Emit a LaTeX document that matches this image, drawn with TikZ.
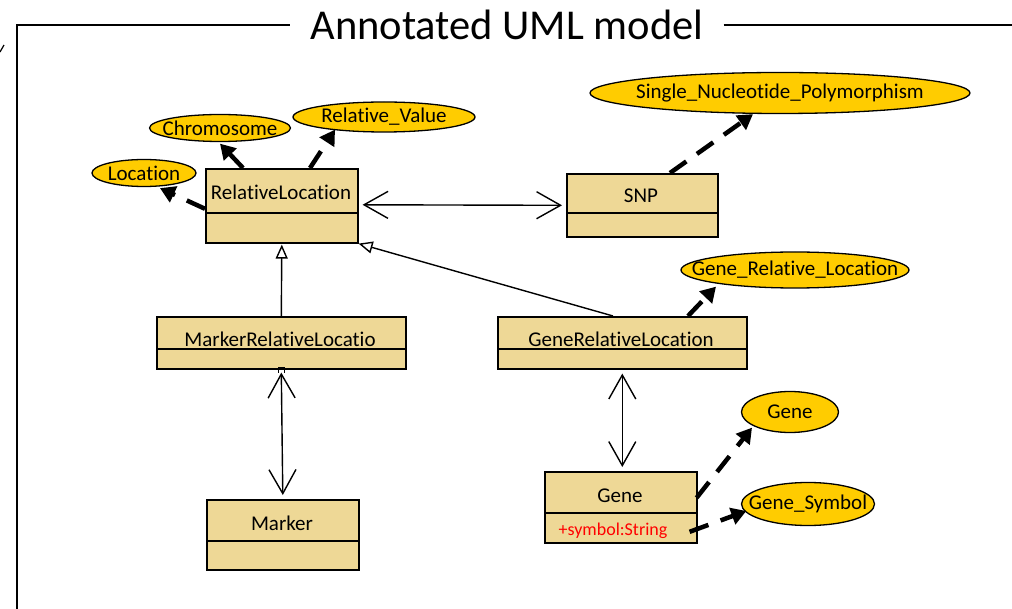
\documentclass[tikz,border=0pt]{standalone}
\usepackage{fontspec}
\setmainfont{Carlito}[Ligatures=NoCommon]
\usetikzlibrary{arrows.meta,shapes.geometric,calc}

\definecolor{boxfill}{RGB}{238,216,150}
\definecolor{ovalfill}{RGB}{255,204,0}
\definecolor{attrred}{RGB}{255,0,0}

\tikzset{
  classbox/.style={draw=black, line width=1.6pt, fill=boxfill, rectangle,
    inner sep=0pt, anchor=north west},
  cname/.style={anchor=base, inner sep=0pt, font=\fontsize{21}{24}\selectfont},
  oval/.style={draw=black, line width=1.3pt, fill=ovalfill, ellipse, inner sep=0pt,
    label={[font=\fontsize{21}{24}\selectfont, inner sep=0pt]center:#1}},
  annot/.style={draw=black, line width=4.5pt, dash pattern=on 20pt off 13pt,
    -{Triangle[length=15pt,width=17pt]}},
  assoc/.style={draw=black, line width=1.4pt,
    {Straight Barb[length=24pt,width=27pt]}-{Straight Barb[length=24pt,width=27pt]}},
  inherit/.style={draw=black, line width=1.4pt,
    -{Triangle[open,length=14pt,width=12pt,fill=white]}},
  frame/.style={draw=black, line width=2pt}
}

\begin{document}
\begin{tikzpicture}[x=1pt,y=-1pt]
\useasboundingbox (0,0) rectangle (1012,609);

% outer frame with its title
\node[anchor=base, inner sep=0pt, font=\fontsize{42.5}{48}\selectfont] (title) at (507,40) {Annotated UML model};
\coordinate (fl) at (17,609);
\coordinate (ftl) at (17,25);
\coordinate (ftr) at (1012,25);
\draw[frame] (fl) -- (ftl) -- ([xshift=-20pt]title.west |- ftl);
\draw[frame] ([xshift=20pt]title.east |- ftr) -- (ftr);
\coordinate (tk1) at (0,52);
\coordinate (tk2) at (4,45);
\draw[line width=1.2pt] (tk1) -- (tk2);

% class boxes
\node[classbox, minimum width=152pt, minimum height=74pt] (rl) at (205,168) {};
\draw[line width=1.6pt] (rl.west |- 0,213) -- (rl.east |- 0,213);
\node[cname] (rlt) at (281,200) {RelativeLocation};

\node[classbox, minimum width=151pt, minimum height=63pt] (snp) at (566,173) {};
\draw[line width=1.6pt] (snp.west |- 0,213) -- (snp.east |- 0,213);
\node[cname] (snpt) at (641,203) {SNP};

\node[classbox, minimum width=249pt, minimum height=52pt] (mrl) at (156,316) {};
\draw[line width=1.6pt] (mrl.west |- 0,349) -- (mrl.east |- 0,349);
\node[cname] (mrlt) at (280,347) {MarkerRelativeLocatio};

\node[classbox, minimum width=249pt, minimum height=52pt] (grl) at (497,316) {};
\draw[line width=1.6pt] (grl.west |- 0,349) -- (grl.east |- 0,349);
\node[cname] (grlt) at (621,347) {GeneRelativeLocation};

\node[classbox, minimum width=152pt, minimum height=71pt] (gene) at (544,471) {};
\draw[line width=1.6pt] (gene.west |- 0,513) -- (gene.east |- 0,513);
\node[cname] (genet) at (620,502) {Gene};
\node[cname, text=attrred, font=\fontsize{18}{21}\selectfont] (genea) at (613,535) {+symbol:String};

\node[classbox, minimum width=152pt, minimum height=70pt] (mk) at (206,499) {};
\draw[line width=1.6pt] (mk.west |- 0,541) -- (mk.east |- 0,541);
\node[cname] (mkt) at (282,530) {Marker};

% ontology concepts
\node[oval={Location}, minimum width=104pt, minimum height=27pt] (loc) at (144,173) {};
\node[oval={Chromosome}, minimum width=141pt, minimum height=27pt] (chr) at (220,128) {};
\node[oval={Relative\_Value}, minimum width=182pt, minimum height=30pt] (rv) at (384,117) {};
\node[oval={Single\_Nucleotide\_Polymorphism}, minimum width=380pt, minimum height=41pt] (snpe) at (780,93) {};
\node[oval={Gene\_Relative\_Location}, minimum width=228pt, minimum height=36pt] (grle) at (795,270) {};
\node[oval={Gene}, minimum width=97pt, minimum height=41pt] (genee) at (790,412) {};
\node[oval={Gene\_Symbol}, minimum width=133pt, minimum height=43pt] (gsym) at (808,504) {};

% annotations
\draw[annot] ([yshift=-3pt]rl.west) -- ([xshift=16pt,yshift=-1pt]loc.south);
\draw[annot] ([xshift=38pt]rl.north west) -- ([yshift=-1.5pt]chr.south);
\draw[annot] ([xshift=105pt]rl.north west) -- ([xshift=-49pt,yshift=3pt]rv.south);
\draw[annot] ([xshift=104pt]snp.north west) -- ([xshift=-27pt]snpe.south);
\draw[annot] ([xshift=191pt]grl.north west) -- ([xshift=-79pt,yshift=2pt]grle.south);
\draw[annot] ([xshift=-1pt,yshift=9.5pt]gene.east) -- ([xshift=-38pt,yshift=5.5pt]genee.south);
\draw[annot] ([xshift=-8pt,yshift=-24.5pt]gene.east) -- ([xshift=5.5pt,yshift=-7pt]gsym.west);

% associations
\draw[assoc] ([xshift=4pt,yshift=1pt]rl.east) -- ([xshift=-4pt]snp.west);
\draw[assoc] ([yshift=-3pt]mrl.south) -- ([yshift=4pt]mk.north);
\draw[line width=1pt] ([xshift=-3pt,yshift=-3pt]mrl.south) -- ([xshift=-3pt,yshift=2pt]mrl.south)
  -- ([xshift=3pt,yshift=2pt]mrl.south) -- ([xshift=3pt,yshift=-3pt]mrl.south);
\draw[assoc] ([yshift=-4pt]grl.south) -- ([yshift=4pt]grl.south |- gene.north);

% generalizations
\draw[inherit] (mrl.north) -- ([yshift=-1pt]rl.south);
\draw[inherit] ([xshift=116pt]grl.north west) -- (rl.south east);
\end{tikzpicture}
\end{document}
